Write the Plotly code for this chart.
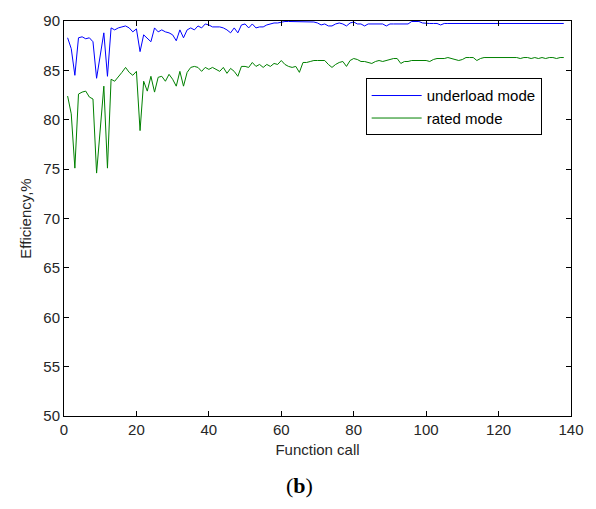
import plotly.graph_objects as go

# Efficiency at each function call of the optimisation run
underload_mode = [
    88.3, 87.2, 84.5, 88.3, 88.4, 88.2, 88.3, 87.9, 84.2, 86.5,
    88.8, 84.4, 89.3, 89.1, 89.3, 89.4, 89.5, 89.3, 88.9, 89.2,
    86.9, 88.6, 88.2, 87.9, 89.3, 88.9, 89.1, 88.9, 88.8, 88.6,
    88.0, 89.1, 88.3, 89.1, 89.3, 89.1, 89.5, 89.3, 89.7, 89.6,
    89.4, 89.4, 89.4, 89.3, 89.1, 88.8, 89.3, 88.8, 89.6, 89.7,
    89.3, 89.7, 89.3, 89.4, 89.4, 89.6, 89.7, 89.8, 89.8, 89.9,
    89.95, 89.95, 89.95, 89.95, 89.95, 89.95, 89.95, 89.95, 89.9, 89.8,
    89.6, 89.7, 89.5, 89.5, 89.7, 89.8, 89.7, 89.5, 89.8, 89.9,
    89.7, 89.7, 89.5, 89.7, 89.7, 89.7, 89.7, 89.7, 89.5, 89.7,
    89.7, 89.7, 89.7, 89.7, 89.7, 89.95, 89.95, 89.95, 89.8, 89.75,
    89.75, 89.75, 89.75, 89.6, 89.75, 89.75, 89.75, 89.75, 89.75, 89.75,
    89.75, 89.75, 89.75, 89.75, 89.75, 89.75, 89.75, 89.75, 89.75, 89.75,
    89.75, 89.75, 89.75, 89.75, 89.75, 89.75, 89.75, 89.75, 89.75, 89.75,
    89.75, 89.75, 89.75, 89.75, 89.75, 89.75, 89.75, 89.75,
]

rated_mode = [
    82.4, 80.6, 75.1, 82.6, 82.8, 82.9, 82.3, 82.1, 74.6, 78.9,
    83.4, 75.1, 84.1, 83.9, 84.3, 84.8, 85.3, 84.8, 84.5, 84.9,
    78.9, 83.9, 82.9, 84.4, 82.8, 84.3, 84.4, 83.9, 84.6, 84.1,
    83.4, 84.9, 83.4, 84.8, 85.3, 85.4, 85.3, 84.9, 85.3, 85.1,
    85.3, 85.1, 84.9, 85.3, 84.7, 85.2, 84.9, 84.4, 85.4, 85.4,
    85.3, 85.8, 85.4, 85.6, 85.3, 85.6, 85.4, 85.7, 85.6, 86.0,
    85.6, 85.4, 85.3, 85.4, 84.8, 85.8, 85.8, 85.9, 86.0, 86.0,
    86.0, 86.0, 85.6, 85.3, 85.6, 85.8, 85.9, 85.4, 86.0, 86.2,
    86.1, 85.9, 85.9, 85.8, 85.7, 85.9, 86.0, 85.9, 86.0, 86.1,
    86.2, 86.2, 85.7, 85.9, 85.9, 86.0, 86.0, 86.0, 86.0, 86.0,
    85.9, 86.1, 86.2, 86.2, 86.2, 86.3, 86.2, 86.1, 86.0, 86.1,
    86.3, 86.3, 86.3, 86.0, 86.2, 86.3, 86.3, 86.3, 86.3, 86.3,
    86.3, 86.3, 86.3, 86.3, 86.3, 86.2, 86.3, 86.3, 86.2, 86.3,
    86.2, 86.3, 86.2, 86.3, 86.3, 86.2, 86.3, 86.3,
]

function_call = list(range(1, len(underload_mode) + 1))

x_ticks = [0, 20, 40, 60, 80, 100, 120, 140]
y_ticks = [50, 55, 60, 65, 70, 75, 80, 85, 90]

font_family = "Liberation Sans, Arial, sans-serif"
text_color = "#262626"

fig = go.Figure()
fig.add_trace(go.Scatter(
    x=function_call, y=underload_mode, mode="lines", name="underload mode",
    line=dict(color="#0000ff", width=1),
))
fig.add_trace(go.Scatter(
    x=function_call, y=rated_mode, mode="lines", name="rated mode",
    line=dict(color="#008000", width=1),
))

axis_style = dict(
    showline=True, linecolor="#000000", linewidth=1, mirror="ticks",
    ticks="inside", ticklen=5, tickcolor="#000000", tickwidth=1,
    showgrid=False, zeroline=False,
    tickfont=dict(family=font_family, size=15, color=text_color),
)

fig.update_xaxes(
    range=[0, 140], tickvals=x_ticks,
    title=dict(text="Function call", standoff=7,
               font=dict(family=font_family, size=15, color=text_color)),
    **axis_style,
)
fig.update_yaxes(
    range=[50, 90], tickvals=y_ticks,
    title=dict(text="Efficiency,%", standoff=8,
               font=dict(family=font_family, size=15, color=text_color)),
    **axis_style,
)

fig.update_layout(
    width=596, height=509,
    margin=dict(l=64, r=22, t=16, b=93),
    paper_bgcolor="#ffffff", plot_bgcolor="#ffffff",
    showlegend=True,
    legend=dict(
        x=0.595, y=0.855, xanchor="left", yanchor="top",
        bgcolor="#ffffff", bordercolor="#000000", borderwidth=1,
        font=dict(family=font_family, size=15, color="#000000"),
        tracegroupgap=0, itemwidth=50,
    ),
    annotations=[dict(
        text="(<b>b</b>)", xref="paper", yref="paper",
        x=0.465, y=-0.14, xanchor="center", yanchor="top", showarrow=False,
        font=dict(family="Liberation Serif, DejaVu Serif, serif", size=22, color="#000000"),
    )],
)

fig.write_html("out.html")
